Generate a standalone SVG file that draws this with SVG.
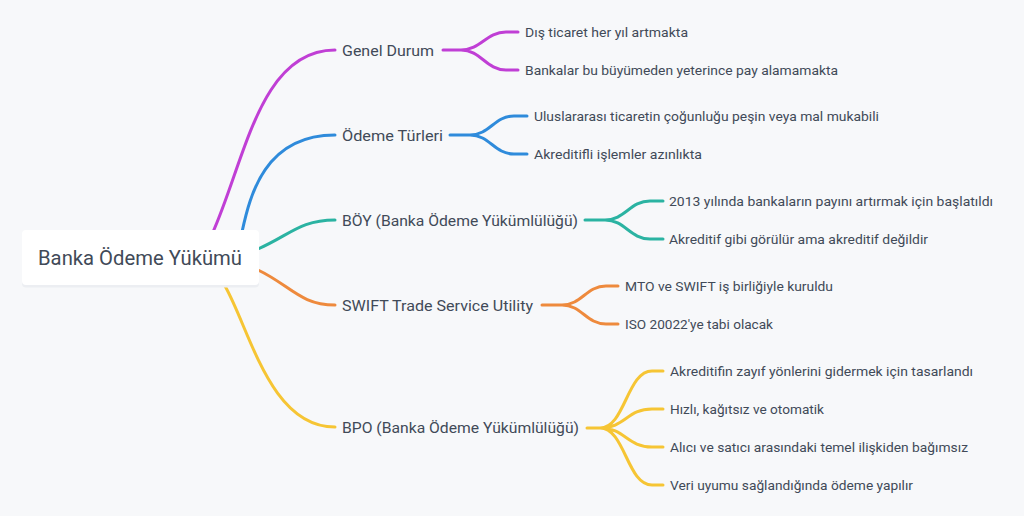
<svg xmlns="http://www.w3.org/2000/svg" width="1024" height="516" viewBox="0 0 1024 516">
<style>
text{font-family:Roboto,"Noto Sans","DejaVu Sans",sans-serif;fill:#414a58}
.l1{font-size:15.5px}
.l2{font-size:13px}
.root{font-size:21px}
.c{fill:none;stroke-width:3;stroke-linecap:round;stroke-linejoin:round}
.pu{stroke:#c03fd5}.bl{stroke:#2f8bdb}.te{stroke:#2bb3a2}.or{stroke:#ee8a3d}.ye{stroke:#f6c534}
</style>
<rect width="1024" height="516" fill="#f7f8fa"/>
<g id="connectors">
<path class="c pu" d="M213,232 C245,160 260,50 335,50"/>
<path class="c bl" d="M242,232 C250,195 265,135 335,135"/>
<path class="c te" d="M258,249 C290,235 300,220 335,220"/>
<path class="c or" d="M258,270 C290,285 300,305 335,305"/>
<path class="c ye" d="M225,286 C250,330 270,427 335,427"/>
<path class="c pu" d="M443,50 L461,50 C481,50 486,32 506,32 L518,32 M461,50 C481,50 486,70 506,70 L518,70"/>
<path class="c bl" d="M450,135 L470,135 C490,135 494,116 514,116 L527,116 M470,135 C490,135 494,154 514,154 L527,154"/>
<path class="c te" d="M585,220 L605,220 C625,220 630,201 650,201 L663,201 M605,220 C625,220 630,239 650,239 L663,239"/>
<path class="c or" d="M542,305 L562,305 C582,305 586,286 606,286 L618,286 M562,305 C582,305 586,324 606,324 L618,324"/>
<path class="c ye" d="M587,428 L600,428 C625,428 627,371 652,371 L663,371 M600,428 C625,428 627,409 652,409 L663,409 M600,428 C625,428 627,447 652,447 L663,447 M600,428 C625,428 627,485 652,485 L663,485"/>
</g>
<g id="root">
<rect x="22" y="231" width="237" height="55" rx="4" fill="#eceef2" transform="translate(0,1.5)"/>
<rect x="22" y="230" width="237" height="55" rx="4" fill="#ffffff"/>
<text class="root" x="38" y="265" textLength="204" lengthAdjust="spacingAndGlyphs">Banka Ödeme Yükümü</text>
</g>
<g id="genel-durum">
<text class="l1" x="342" y="55.5" textLength="92" lengthAdjust="spacingAndGlyphs">Genel Durum</text>
<text class="l2" x="525" y="36.5" textLength="163" lengthAdjust="spacingAndGlyphs">Dış ticaret her yıl artmakta</text>
<text class="l2" x="525" y="74.5" textLength="313" lengthAdjust="spacingAndGlyphs">Bankalar bu büyümeden yeterince pay alamamakta</text>
</g>
<g id="odeme-turleri">
<text class="l1" x="342" y="140.5" textLength="101" lengthAdjust="spacingAndGlyphs">Ödeme Türleri</text>
<text class="l2" x="534" y="120.5" textLength="345" lengthAdjust="spacingAndGlyphs">Uluslararası ticaretin çoğunluğu peşin veya mal mukabili</text>
<text class="l2" x="534" y="158.5" textLength="168" lengthAdjust="spacingAndGlyphs">Akreditifli işlemler azınlıkta</text>
</g>
<g id="boy">
<text class="l1" x="342" y="225.5" textLength="236" lengthAdjust="spacingAndGlyphs">BÖY (Banka Ödeme Yükümlülüğü)</text>
<text class="l2" x="669" y="205.5" textLength="324" lengthAdjust="spacingAndGlyphs">2013 yılında bankaların payını artırmak için başlatıldı</text>
<text class="l2" x="669" y="243.5" textLength="259" lengthAdjust="spacingAndGlyphs">Akreditif gibi görülür ama akreditif değildir</text>
</g>
<g id="swift">
<text class="l1" x="342" y="310.5" textLength="191" lengthAdjust="spacingAndGlyphs">SWIFT Trade Service Utility</text>
<text class="l2" x="625" y="290.5" textLength="208" lengthAdjust="spacingAndGlyphs">MTO ve SWIFT iş birliğiyle kuruldu</text>
<text class="l2" x="625" y="328.5" textLength="148" lengthAdjust="spacingAndGlyphs">ISO 20022'ye tabi olacak</text>
</g>
<g id="bpo">
<text class="l1" x="342" y="432.5" textLength="237" lengthAdjust="spacingAndGlyphs">BPO (Banka Ödeme Yükümlülüğü)</text>
<text class="l2" x="670" y="375.5" textLength="303" lengthAdjust="spacingAndGlyphs">Akreditifin zayıf yönlerini gidermek için tasarlandı</text>
<text class="l2" x="670" y="413.5" textLength="154" lengthAdjust="spacingAndGlyphs">Hızlı, kağıtsız ve otomatik</text>
<text class="l2" x="670" y="451.5" textLength="298" lengthAdjust="spacingAndGlyphs">Alıcı ve satıcı arasındaki temel ilişkiden bağımsız</text>
<text class="l2" x="670" y="489.5" textLength="243" lengthAdjust="spacingAndGlyphs">Veri uyumu sağlandığında ödeme yapılır</text>
</g>
</svg>
